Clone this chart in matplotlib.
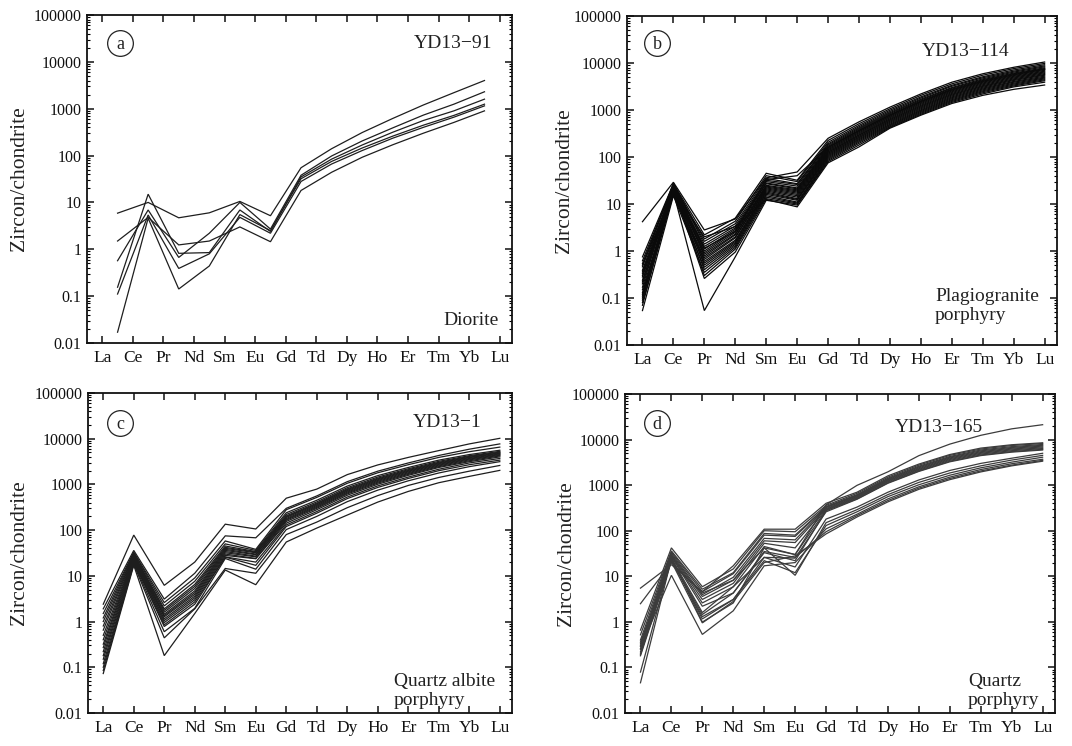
import matplotlib.pyplot as plt
from matplotlib.ticker import LogLocator, NullFormatter
import numpy as np

plt.rcParams['font.family'] = ['Liberation Serif', 'DejaVu Serif']

elements = ['La', 'Ce', 'Pr', 'Nd', 'Sm', 'Eu', 'Gd', 'Td', 'Dy', 'Ho', 'Er', 'Tm', 'Yb', 'Lu']
y_ticks = [0.01, 0.1, 1, 10, 100, 1000, 10000, 100000]
y_tick_labels = ['0.01', '0.1', '1', '10', '100', '1000', '10000', '100000']

# (a) YD13-91 diorite, 13 analyses per spot
yd13_91 = [
    [5.9, 10, 4.7, 6.0, 10.5, 5.2, 55, 140, 310, 620, 1200, 2200, 4000],
    [1.5, 4.8, 1.24, 1.5, 3.0, 1.45, 18, 44, 92, 170, 300, 510, 900],
    [0.57, 6.9, 0.67, 2.2, 10, 2.7, 38, 98, 205, 390, 730, 1250, 2300],
    [0.155, 15, 0.82, 0.85, 6.9, 2.4, 35, 84, 168, 315, 560, 900, 1600],
    [0.111, 5.4, 0.39, 0.8, 4.8, 2.2, 28, 66, 128, 235, 400, 660, 1150],
    [0.017, 4.6, 0.142, 0.44, 5.5, 2.5, 32, 75, 145, 260, 445, 720, 1250],
]

# (b) YD13-114 plagiogranite porphyry
yd13_114 = [
    [4.2, 29, 2.8, 4.8, 36, 48, 250, 560, 1150, 2200, 3900, 5900, 8100, 10500],
    [0.75, 27, 2.2, 5.0, 45, 32, 225, 510, 1060, 2050, 3600, 5500, 7600, 9800],
    [0.62, 26, 1.8, 4.3, 40, 30, 205, 470, 990, 1900, 3350, 5100, 7100, 9200],
    [0.54, 25, 1.6, 3.8, 35, 27, 190, 440, 930, 1800, 3200, 4850, 6700, 8700],
    [0.46, 28, 1.4, 3.4, 32, 26, 180, 415, 880, 1700, 3000, 4600, 6400, 8300],
    [0.39, 24, 1.25, 3.1, 30, 24, 170, 395, 840, 1630, 2900, 4400, 6100, 7900],
    [0.33, 23, 1.1, 2.9, 28, 22, 162, 375, 800, 1560, 2780, 4250, 5900, 7600],
    [0.28, 22, 1.0, 2.7, 27, 21, 155, 360, 770, 1500, 2650, 4050, 5600, 7300],
    [0.24, 21, 0.92, 2.5, 25, 20, 148, 345, 740, 1440, 2550, 3900, 5400, 7000],
    [0.2, 20, 0.85, 2.3, 24, 19, 142, 330, 710, 1380, 2450, 3750, 5200, 6700],
    [0.17, 26, 0.78, 2.2, 23, 18, 136, 315, 680, 1320, 2350, 3600, 5000, 6450],
    [0.15, 19, 0.72, 2.0, 22, 17, 130, 300, 650, 1260, 2250, 3450, 4800, 6200],
    [0.13, 18, 0.66, 1.9, 21, 16, 125, 290, 625, 1210, 2160, 3300, 4600, 5950],
    [0.11, 22, 0.6, 1.7, 20, 15, 120, 278, 600, 1160, 2080, 3180, 4420, 5700],
    [0.1, 17, 0.55, 1.6, 19, 14, 115, 266, 575, 1110, 1990, 3050, 4250, 5500],
    [0.09, 24, 0.5, 1.5, 18, 13, 110, 255, 550, 1060, 1900, 2920, 4050, 5250],
    [0.08, 16, 0.45, 1.4, 17, 12.5, 105, 243, 525, 1010, 1820, 2800, 3900, 5000],
    [0.07, 20, 0.4, 1.3, 16, 12, 100, 232, 500, 970, 1740, 2680, 3720, 4800],
    [0.054, 15, 0.35, 1.2, 15, 11, 95, 220, 480, 930, 1660, 2560, 3560, 4600],
    [0.12, 23, 0.3, 1.1, 14, 10.5, 90, 208, 460, 890, 1590, 2450, 3400, 4400],
    [0.3, 21, 0.26, 0.95, 13, 10, 85, 195, 440, 850, 1520, 2330, 3250, 4200],
    [0.5, 18, 0.054, 0.75, 12, 9.5, 80, 180, 425, 810, 1450, 2200, 3100, 3900],
    [0.22, 25, 1.15, 2.6, 33, 40, 160, 365, 780, 1520, 2700, 4100, 5700, 7400],
    [0.36, 19, 2.0, 3.3, 12.5, 8.7, 75, 164, 410, 776, 1375, 2050, 2750, 3400],
]

# (c) YD13-1 quartz albite porphyry
yd13_1 = [
    [2.4, 78, 6.2, 20, 135, 106, 500, 790, 1640, 2670, 3900, 5500, 7700, 10200],
    [1.9, 36, 3.1, 11.4, 75, 68, 300, 560, 1150, 1950, 2950, 4300, 5900, 7700],
    [1.5, 33, 2.6, 9.0, 58, 38, 280, 520, 1060, 1800, 2700, 3900, 5200, 6550],
    [1.2, 32, 2.2, 7.6, 50, 36, 240, 450, 920, 1560, 2350, 3400, 4500, 5600],
    [1.0, 30, 1.9, 6.5, 45, 34, 220, 415, 850, 1450, 2200, 3200, 4250, 5300],
    [0.8, 29, 1.75, 5.9, 42, 33, 205, 390, 800, 1370, 2100, 3050, 4100, 5100],
    [0.65, 28, 1.6, 5.3, 40, 32, 197, 375, 770, 1320, 2020, 2950, 3950, 4950],
    [0.5, 27, 1.45, 4.7, 38, 30, 190, 360, 740, 1270, 1950, 2850, 3850, 4800],
    [0.4, 26, 1.35, 4.3, 36, 29, 180, 345, 710, 1220, 1880, 2750, 3700, 4650],
    [0.32, 25, 1.27, 3.95, 34, 27, 172, 330, 680, 1170, 1800, 2650, 3580, 4500],
    [0.27, 24, 1.15, 3.6, 32, 26, 165, 315, 650, 1120, 1730, 2550, 3450, 4350],
    [0.22, 23, 1.05, 3.3, 30, 24, 155, 300, 620, 1070, 1660, 2450, 3300, 4200],
    [0.18, 22, 0.95, 3.0, 28, 23.7, 142, 280, 580, 1010, 1580, 2350, 3150, 4000],
    [0.15, 21, 0.85, 2.7, 26, 20, 130, 255, 530, 930, 1450, 2150, 2950, 3700],
    [0.12, 20, 0.78, 2.4, 25.7, 17, 120, 235, 490, 860, 1350, 2000, 2700, 3400],
    [0.1, 19, 0.6, 1.95, 24, 14, 103, 200, 420, 750, 1200, 1780, 2450, 3150],
    [0.085, 18, 0.44, 1.9, 14.5, 11.4, 80, 150, 310, 570, 950, 1420, 1950, 2600],
    [0.073, 17, 0.18, 1.5, 13.4, 6.4, 55, 111, 214, 411, 703, 1090, 1500, 2030],
]

# (d) YD13-165 quartz porphyry
yd13_165 = [
    [2.5, 20, 4.3, 8.2, 42, 30, 370, 990, 1960, 4440, 7950, 12400, 17200, 21200],
    [5.5, 18, 4.6, 17, 108, 108, 400, 700, 1600, 2900, 4700, 6500, 7700, 8500],
    [0.66, 42, 5.9, 14.5, 100, 95, 360, 660, 1500, 2750, 4500, 6200, 7400, 8200],
    [0.52, 36, 5.2, 12, 87, 80, 340, 620, 1420, 2600, 4250, 5900, 7000, 7800],
    [0.4, 34, 4.6, 11.4, 80, 75, 330, 600, 1370, 2500, 4100, 5650, 6700, 7500],
    [0.33, 32, 3.95, 9.5, 68, 63, 320, 580, 1320, 2400, 3950, 5400, 6450, 7200],
    [0.29, 30, 3.6, 8.2, 60, 55, 305, 560, 1270, 2300, 3800, 5200, 6200, 6900],
    [0.25, 29, 3.1, 7.0, 53, 42, 295, 540, 1230, 2220, 3650, 5000, 5950, 6600],
    [0.22, 28, 2.6, 5.9, 45, 30, 285, 520, 1180, 2130, 3500, 4800, 5700, 6350],
    [0.19, 27, 2.2, 4.3, 33, 22, 275, 500, 1130, 2050, 3350, 4600, 5450, 6100],
    [0.079, 25, 1.6, 5.9, 26, 25, 260, 490, 1100, 2000, 3250, 4450, 5300, 5900],
    [0.046, 24, 1.16, 3.1, 26, 16, 180, 330, 700, 1300, 2100, 3000, 3900, 5000],
    [0.3, 26, 0.99, 2.6, 42, 10.5, 150, 290, 620, 1150, 1850, 2650, 3550, 4500],
    [0.36, 22, 1.3, 3.1, 22, 12, 130, 260, 560, 1020, 1650, 2400, 3200, 4100],
    [0.26, 10.5, 0.53, 1.75, 17, 20, 110, 230, 500, 920, 1500, 2200, 2950, 3700],
    [0.2, 23, 1.45, 4.3, 35, 26, 95, 215, 460, 860, 1400, 2050, 2750, 3500],
    [0.18, 21, 0.95, 2.8, 20, 28, 85, 200, 430, 810, 1320, 1950, 2650, 3350],
]

W, H = 1072, 746
fig = plt.figure(figsize=(W / 100, H / 100), dpi=100)


def px_rect(x0, y0, x1, y1):
    return [x0 / W, 1 - y1 / H, (x1 - x0) / W, (y1 - y0) / H]


def px(x, y):
    return x / W, 1 - y / H


panels = [
    dict(rect=(87, 15, 512, 343), data=yd13_91, offset=0.5, color='#1e1e1e',
         letter='a', circ=(120, 43), sample='YD13\u221291', sample_xy=(492, 43),
         rock='Diorite', rock_xy=(499, 321), rock_ha='right', ylab_x=20),
    dict(rect=(627, 16, 1057, 345), data=yd13_114, offset=0.0, color='#0a0a0a',
         letter='b', circ=(657, 43), sample='YD13\u2212114', sample_xy=(1009, 51),
         rock='Plagiogranite\nporphyry', rock_xy=(935, 306), rock_ha='left', ylab_x=564),
    dict(rect=(88, 393, 512, 713), data=yd13_1, offset=0.0, color='#1e1e1e',
         letter='c', circ=(120, 423), sample='YD13\u22121', sample_xy=(482, 422),
         rock='Quartz albite\nporphyry', rock_xy=(394, 691), rock_ha='left', ylab_x=20),
    dict(rect=(625, 394, 1055, 713), data=yd13_165, offset=0.0, color='#3c3c3c',
         letter='d', circ=(657, 423), sample='YD13\u2212165', sample_xy=(983, 427),
         rock='Quartz\nporphyry', rock_xy=(968, 691), rock_ha='left', ylab_x=566),
]

for p in panels:
    ax = fig.add_axes(px_rect(*p['rect']))
    for row in p['data']:
        x = np.arange(len(row)) + p['offset']
        ax.plot(x, row, color=p['color'], lw=0.9, solid_joinstyle='miter')

    ax.set_yscale('log')
    ax.set_ylim(0.01, 100000)
    ax.set_xlim(-0.5, 13.4)
    ax.set_yticks(y_ticks)
    ax.set_yticklabels(y_tick_labels)
    ax.yaxis.set_minor_locator(LogLocator(base=10, subs=np.arange(2, 10)))
    ax.yaxis.set_minor_formatter(NullFormatter())
    ax.set_xticks(np.arange(len(elements)))
    ax.set_xticklabels(elements)

    ax.tick_params(axis='both', which='major', direction='in', length=5, width=1.1,
                   top=True, right=True, colors='#111111')
    ax.tick_params(axis='y', which='minor', direction='in', length=2.5, width=0.8,
                   right=True)
    ax.tick_params(axis='y', labelsize=11.5, pad=4)
    ax.tick_params(axis='x', labelsize=12.5, pad=5)
    for s in ax.spines.values():
        s.set_linewidth(1.3)
        s.set_color('#111111')

    # circled panel letter
    cx, cy = px(*p['circ'])
    fig.lines.append(plt.Line2D([cx], [cy], marker='o', ms=18.5, mfc='none',
                                mec='#222222', mew=0.9, transform=fig.transFigure))
    fig.text(cx, cy - 0.002, p['letter'], fontsize=13, ha='center', va='center',
             color='#222222')

    sx, sy = px(*p['sample_xy'])
    fig.text(sx, sy, p['sample'], fontsize=14, ha='right', va='center', color='#222222')
    rx, ry = px(*p['rock_xy'])
    fig.text(rx, ry, p['rock'], fontsize=14, ha=p['rock_ha'], va='center',
             linespacing=1.1, color='#222222')

    x0, y0, x1, y1 = p['rect']
    lx, ly = px(p['ylab_x'], (y0 + y1) / 2)
    fig.text(lx, ly, 'Zircon/chondrite', fontsize=15.5, rotation=90, ha='center',
             va='center', color='#222222')

fig.savefig('out.png', dpi=100)
